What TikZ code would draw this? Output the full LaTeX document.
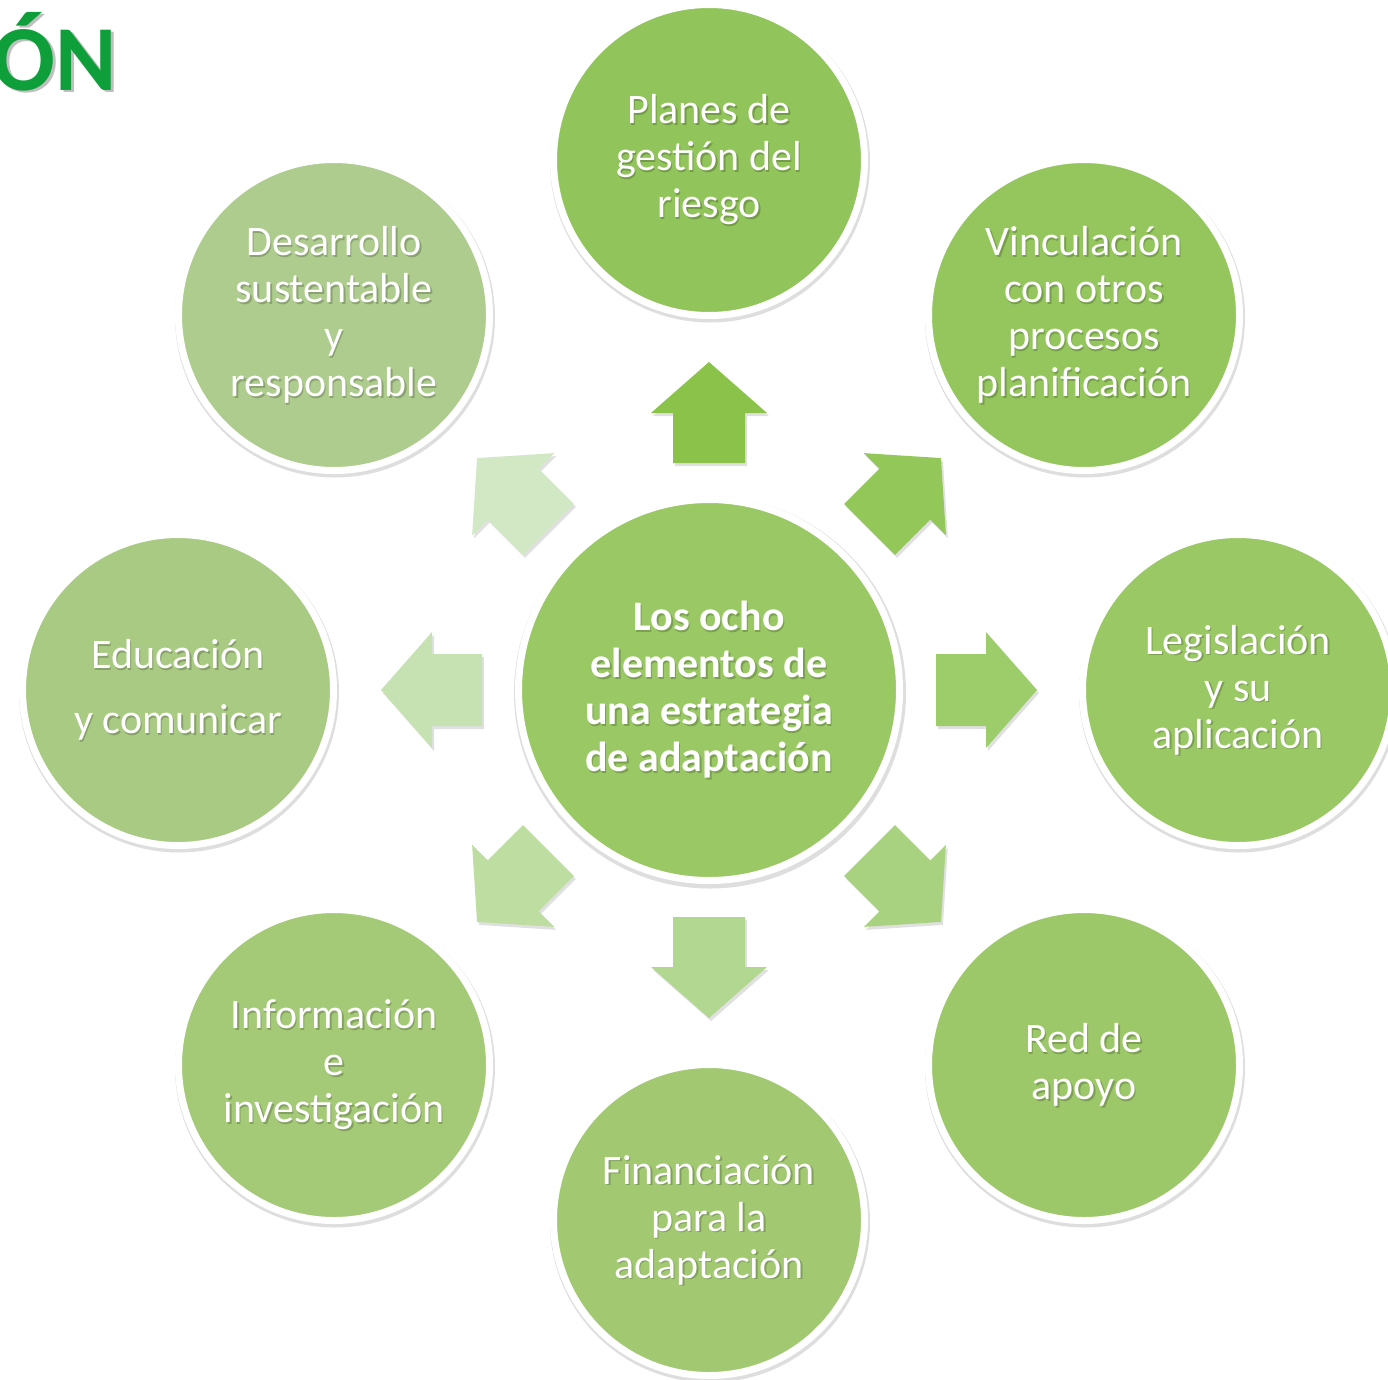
\documentclass[tikz,border=0pt]{standalone}
\usepackage{fontspec}
\setmainfont{Carlito}
\definecolor{titlegreen}{HTML}{0E9F3B}
\definecolor{cTop}{HTML}{91C45A}
\definecolor{cTR}{HTML}{95C65E}
\definecolor{cR}{HTML}{9AC865}
\definecolor{cBR}{HTML}{9DC869}
\definecolor{cB}{HTML}{A2C972}
\definecolor{cBL}{HTML}{A5CA77}
\definecolor{cL}{HTML}{A9CA82}
\definecolor{cTL}{HTML}{AECC8D}
\definecolor{cC}{HTML}{9AC864}
\definecolor{aUp}{HTML}{8BC34A}
\definecolor{aTR}{HTML}{93C75A}
\definecolor{aR}{HTML}{9DCC6B}
\definecolor{aBR}{HTML}{A8D27F}
\definecolor{aDn}{HTML}{B2D791}
\definecolor{aBL}{HTML}{BDDDA1}
\definecolor{aL}{HTML}{C7E2B2}
\definecolor{aTL}{HTML}{D2E8C4}
\tikzset{
  bub/.style={circle, draw=white, line width=7pt, minimum size=311pt, inner sep=0pt},
  bigbub/.style={circle, draw=white, line width=7pt, minimum size=381pt, inner sep=0pt},
  txt/.style={align=center, text=white, inner sep=0pt, font=\fontsize{42}{47}\selectfont},
  tsh/.style={txt, text=black, opacity=.2},
  btxt/.style={txt, font=\fontsize{42}{47}\selectfont\bfseries},
  btsh/.style={btxt, text=black, opacity=.2},
}
\newcommand\bubble[5]{%
  \fill[black,opacity=.13] (#2+1,#3-2.5) circle (160pt);
  \node[bub, fill=#4] (#1) at (#2,#3) {};
  \node[tsh] at (#2+1.5,#3-1.5) {#5};
  \node[txt] (#1-text) at (#2,#3) {#5};
}
\newcommand\radarrow[2]{%
  \fill[black,opacity=.12, shift={(711,-693)}, rotate=#1]
    (227,-36) -- (277,-36) -- (277,-58) -- (328,0) -- (277,58) -- (277,36) -- (227,36) -- cycle;
  \fill[#2, shift={(709,-690)}, rotate=#1]
    (227,-36) -- (277,-36) -- (277,-58) -- (328,0) -- (277,58) -- (277,36) -- (227,36) -- cycle;
}
\begin{document}
\begin{tikzpicture}[x=1pt,y=1pt]
\useasboundingbox (0,0) rectangle (1388,-1379);
\fill[white] (0,0) rectangle (1388,-1379);
% title fragment
\node[anchor=base east, inner sep=0pt, font=\fontsize{93}{93}\selectfont\bfseries, text=black, opacity=.25] at (119.5,-92.5) {ÓN};
\node[anchor=base east, inner sep=0pt, font=\fontsize{93}{93}\selectfont\bfseries, text=titlegreen] (title) at (117,-90) {ÓN};
% arrows
\radarrow{90}{aUp}
\radarrow{45}{aTR}
\radarrow{0}{aR}
\radarrow{-45}{aBR}
\radarrow{-90}{aDn}
\radarrow{-135}{aBL}
\radarrow{180}{aL}
\radarrow{135}{aTL}
% outer circles
\bubble{top}{709}{-160}{cTop}{Planes de\\gestión del\\riesgo}
\bubble{tr}{1084}{-315}{cTR}{Vinculación\\con otros\\procesos\\planificación}
\bubble{right}{1238}{-690}{cR}{Legislación\\y su\\aplicación}
\bubble{br}{1084}{-1065}{cBR}{Red de\\apoyo}
\bubble{bottom}{709}{-1220}{cB}{Financiación\\para la\\adaptación}
\bubble{bl}{334}{-1065}{cBL}{Información\\e\\investigación}
\bubble{left}{178}{-690}{cL}{Educación\\[18pt]y comunicar}
\bubble{tl}{334}{-315}{cTL}{Desarrollo\\sustentable\\y\\responsable}
% centre
\fill[black,opacity=.13] (710,-692.5) circle (196pt);
\node[bigbub, fill=cC] (centre) at (709,-690) {};
\node[btsh] at (710.5,-691.5) {Los ocho\\elementos de\\una estrategia\\de adaptación};
\node[btxt] (centre-text) at (709,-690) {Los ocho\\elementos de\\una estrategia\\de adaptación};
\end{tikzpicture}
\end{document}
